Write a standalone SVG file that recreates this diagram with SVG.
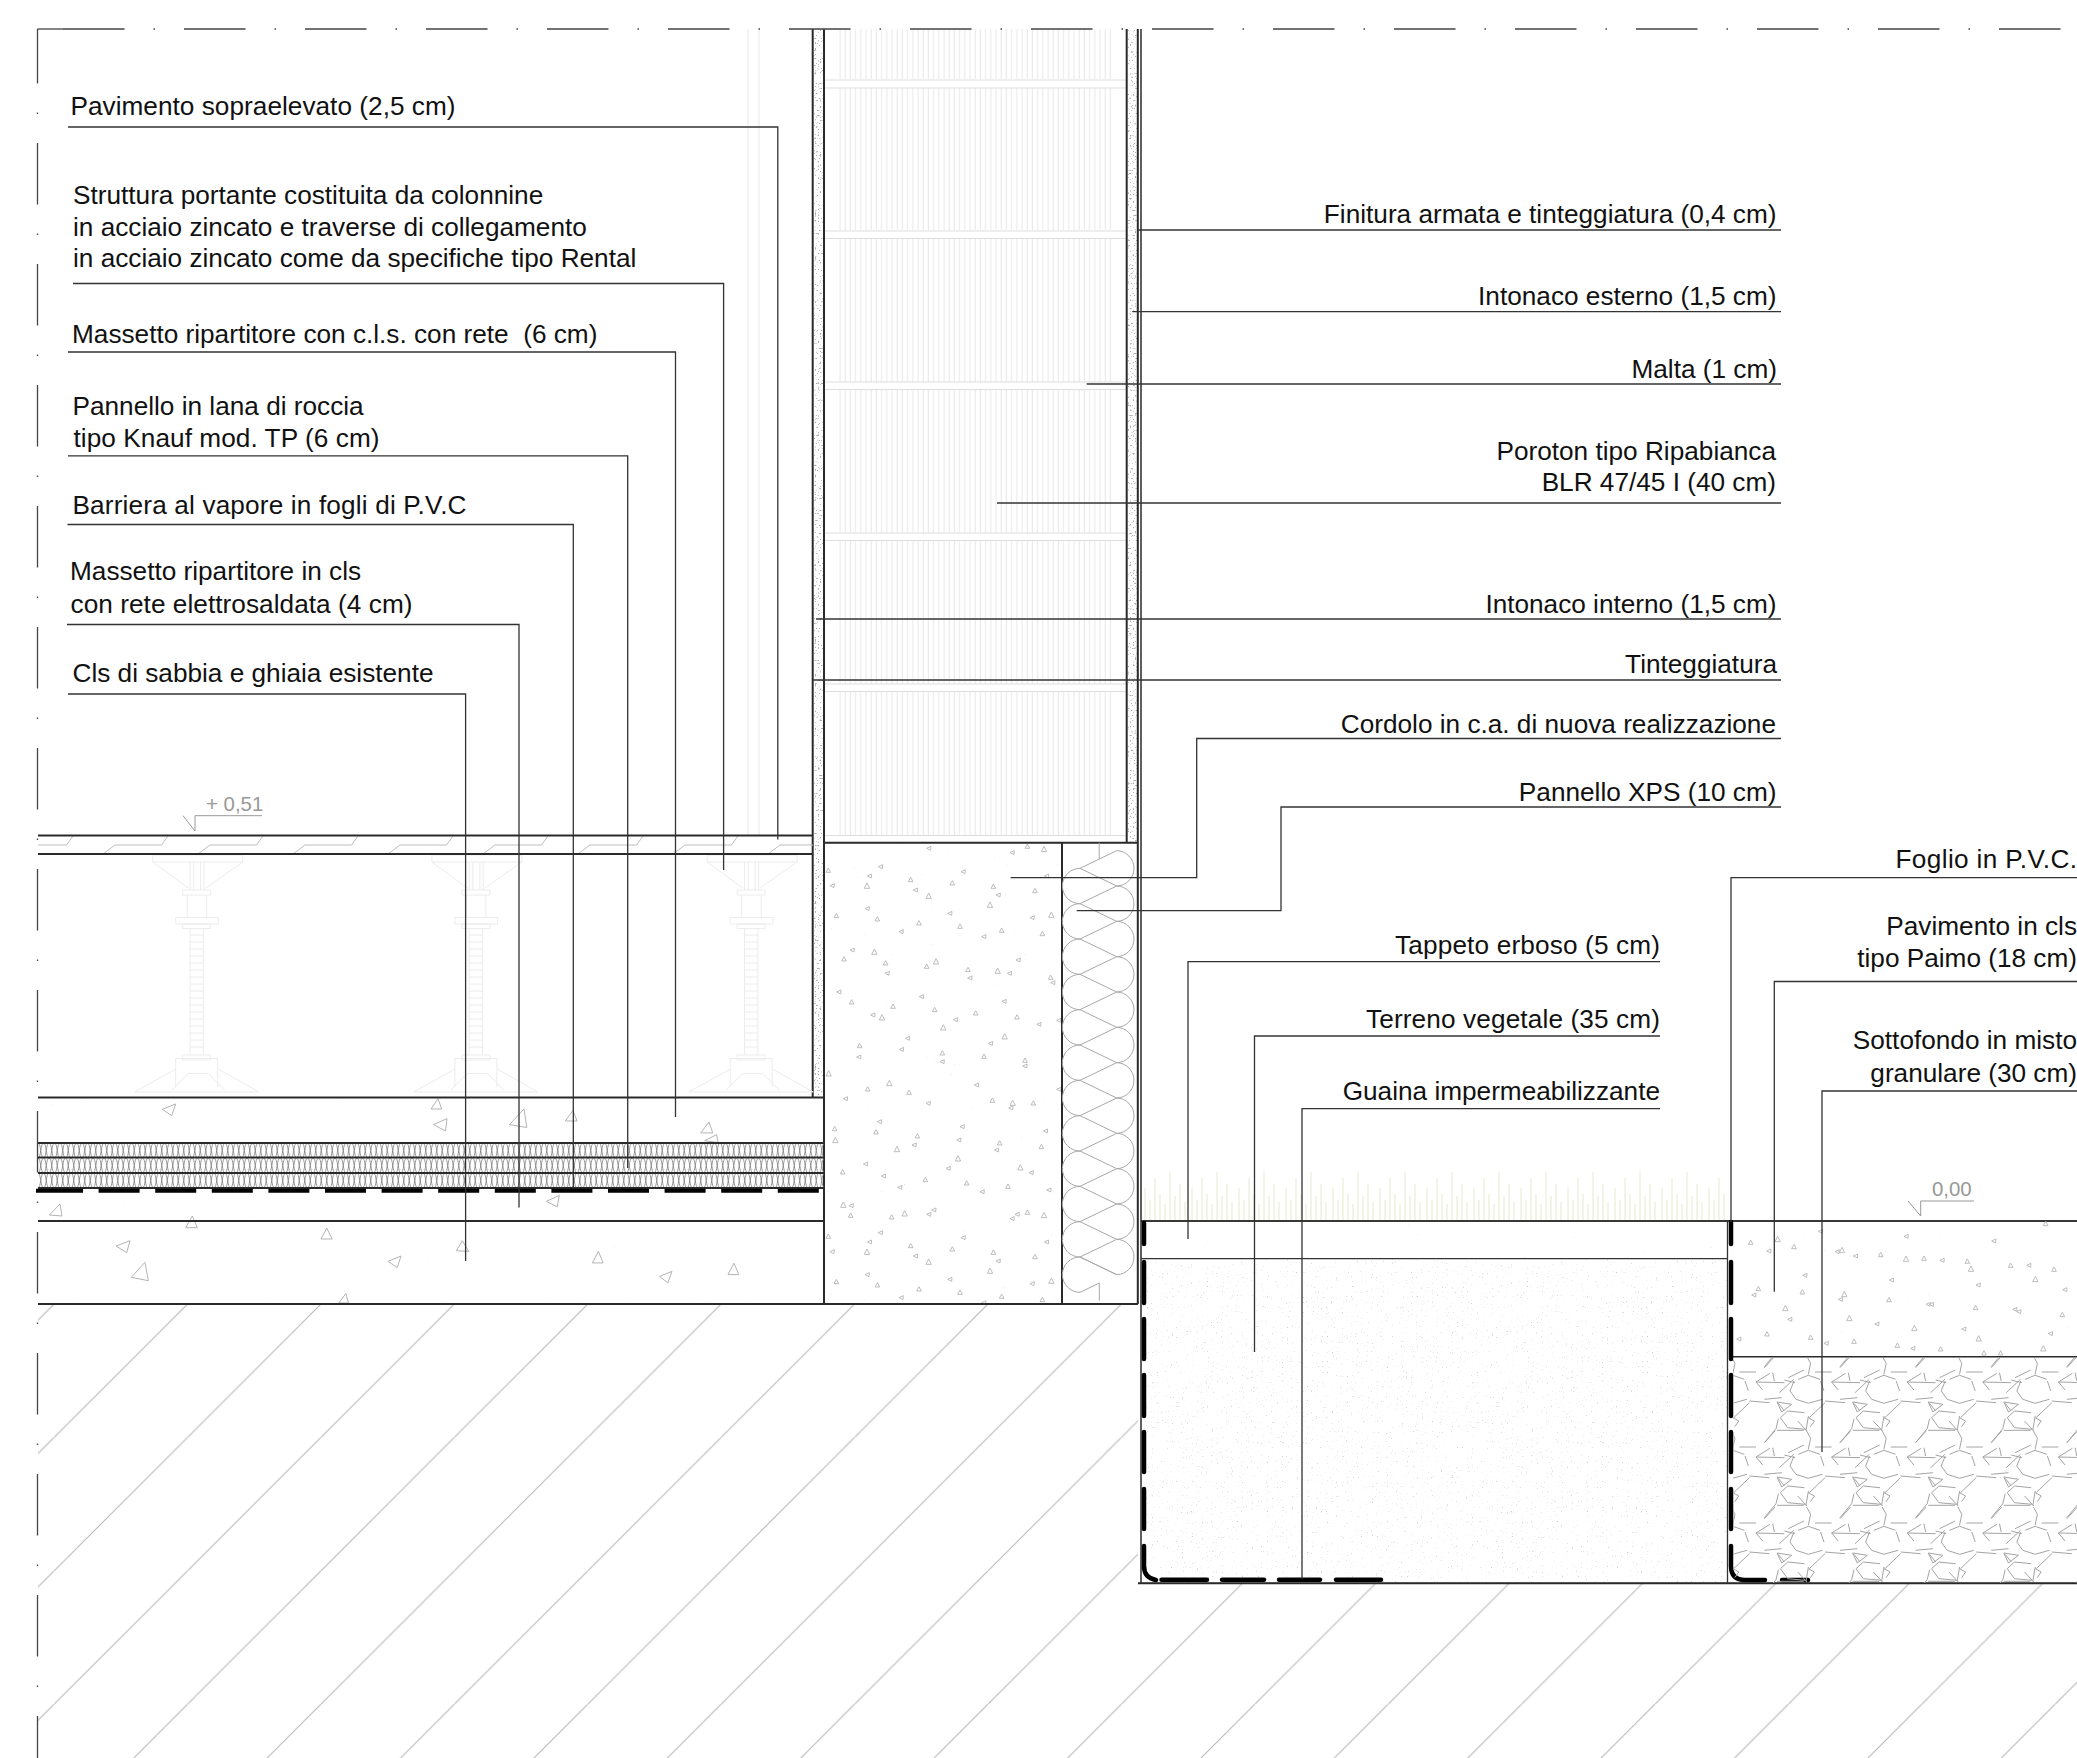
<svg xmlns="http://www.w3.org/2000/svg" xmlns:xlink="http://www.w3.org/1999/xlink" width="2077" height="1758" viewBox="0 0 2077 1758">
<style>
text{font-family:"Liberation Sans",Arial,sans-serif;font-size:26.2px;fill:#111}
.e{text-anchor:end}
.lv{font-size:20.4px;fill:#999}
.ln{fill:none;stroke:#2a2a2a;stroke-width:2}
.th{fill:none;stroke:#333;stroke-width:1.3}
.ld{fill:none;stroke:#333;stroke-width:1.3}
.tri{fill:none;stroke:#b4b4b4;stroke-width:1}
.ped{fill:none;stroke:#ececec;stroke-width:1}
.thick{fill:none;stroke:#000;stroke-width:4.5;stroke-linecap:round}
.axis{fill:none;stroke:#444;stroke-width:1.3}
</style>
<defs>
<pattern id="ground" patternUnits="userSpaceOnUse" x="54.2" y="1304" width="133.4" height="133.4"><path d="M135.4 -2L-2 135.4" fill="none" stroke="#b8b8b8" stroke-width="1.1"/></pattern>
<pattern id="braid" patternUnits="userSpaceOnUse" x="38" y="1143" width="11" height="15"><path d="M0 15C3 15 2.5 0 5.5 0C8.5 0 8 15 11 15M0 0C3 0 2.5 15 5.5 15C8.5 15 8 0 11 0" fill="none" stroke="#7c7c7c" stroke-width=".8"/></pattern>
<pattern id="block" patternUnits="userSpaceOnUse" x="838" y="0" width="5.2" height="20"><path d="M2 0V20" stroke="#e8e8e8" stroke-width="1"/></pattern>
<pattern id="grass" patternUnits="userSpaceOnUse" x="1143" y="1166" width="47" height="55"><path d="M2 22V55M7 34V55M12 12V55M17 28V55M22 38V55M27 6V55M32 30V55M37 18V55M42 36V55" stroke="#e4e9cf" stroke-width="1"/></pattern>
<filter id="fSoil" x="0" y="0" width="1" height="1" color-interpolation-filters="sRGB"><feTurbulence type="fractalNoise" baseFrequency=".8" numOctaves="1" seed="4"/><feColorMatrix values="0 0 0 0 .8 0 0 0 0 .8 0 0 0 0 .8 9 0 0 0 -6.1"/></filter>
<filter id="fSparse" x="0" y="0" width="1" height="1" color-interpolation-filters="sRGB"><feTurbulence type="fractalNoise" baseFrequency=".7" numOctaves="1" seed="9"/><feColorMatrix values="0 0 0 0 .82 0 0 0 0 .82 0 0 0 0 .82 9 0 0 0 -6.9"/></filter>
<filter id="fPlaster" x="0" y="0" width="1" height="1" color-interpolation-filters="sRGB"><feTurbulence type="fractalNoise" baseFrequency=".6" numOctaves="1" seed="2"/><feColorMatrix values="0 0 0 0 .68 0 0 0 0 .68 0 0 0 0 .68 9 0 0 0 -5.4"/></filter>
<clipPath id="cGround"><path d="M38 1304H1138V1583H2077V1758H38Z"/></clipPath>
<clipPath id="cConc"><rect x="825" y="844" width="236" height="459"/></clipPath>
<clipPath id="cGrav"><rect x="1733" y="1358" width="344" height="225"/></clipPath>
<clipPath id="cFin"><rect x="38" y="836" width="775" height="18"/></clipPath>
<path id="xu" d="M1080 868.33A17.67 17.67 0 0 0 1080 903.67M1116.7 850.67A17.67 17.67 0 0 1 1116.7 886M1116.7 850.67L1080 868.33L1116.7 886"/>
<g id="ped" class="ped">
<path d="M-44 855H46V862H-44ZM-44 862L-8.5 888M46 862L9 888M-6.7 862V890M7.3 862V890M-3 862V890M4 862V890"/>
<path d="M-14 890H14V895H-14ZM-9.5 895V917M10 895V917M-21 917.5H21.7V924H-21ZM-14 924H14V928.5H-14Z"/>
<path d="M-6.7 928.5V1055M6.7 928.5V1055M-6.7 935h13.4M-6.7 942h13.4M-6.7 949h13.4M-6.7 956h13.4M-6.7 963h13.4M-6.7 970h13.4M-6.7 977h13.4M-6.7 984h13.4M-6.7 991h13.4M-6.7 998h13.4M-6.7 1005h13.4M-6.7 1012h13.4M-6.7 1019h13.4M-6.7 1026h13.4M-6.7 1033h13.4M-6.7 1040h13.4M-6.7 1047h13.4"/>
<path d="M-14 1055H14V1060H-14ZM-21 1058.5H21V1087M-21 1058.5V1087M-25 1090L-8.3 1073.5H11.7L28.3 1090.5M-62 1091.7L-21 1069.3M21.7 1069.3L61.7 1091.7M-62 1092H62"/>
</g>
<path id="gr" fill="none" stroke="#a4a4a4" stroke-width="1" d="M-10 -11.7L0 -15.7L11.7 -11.7M12.3 -10L15.7 0M14.3 8.3L0 12.3L-12.3 8.3L-18.3 0L-14.3 -10M-1.7 -35L2.3 -27.7L0 -16.7M-20 -13.3L-4.3 -21M6.7 -19H23.3M31.7 -23.3L42.3 -35M23.3 -9L37.3 -17.7M23.3 -9L30 -1M23.3 -9L51.7 -8.3M40 -18.3L41.7 -10M46.7 1.7L61 -11.7M51.7 -11L62.3 -8.3M16.7 10L36.7 11.7M31.7 8.3L49 6.7M1 26.7L16.7 11.7M44.3 11L59 13.3L49 21ZM45.7 12.3L51.7 20M47.7 26.7L55 20L71.7 21.7M47.7 26.7L55 36.7L72.7 38.3M44.3 39.3H71M31.7 51.7L43.3 37.7L45.7 27.7M75.7 26.7L81.7 30L77.7 35.7M73.3 39.3L75.7 25M65 30L74.3 40"/>
</defs>

<g id="ground-hatch"><path d="M38 1304H1138V1583H2077V1758H38Z" fill="url(#ground)"/></g>

<g id="textures">
<rect x="38" y="1098" width="786" height="45" filter="url(#fSparse)" opacity=".5"/>
<rect x="38" y="1192" width="786" height="112" filter="url(#fSparse)" opacity=".5"/>
<rect x="825" y="843" width="236" height="461" filter="url(#fSparse)"/>
<rect x="1145" y="1259" width="582" height="324" filter="url(#fSoil)"/>
<rect x="1145" y="1222" width="582" height="36" filter="url(#fSparse)"/>
<rect x="1733" y="1222" width="344" height="134" filter="url(#fSparse)"/>
<rect x="814" y="29" width="10" height="1068" filter="url(#fPlaster)"/>
<rect x="1128" y="29" width="9.5" height="813" filter="url(#fPlaster)"/>
<rect x="1143" y="1166" width="582" height="55" fill="url(#grass)"/>
</g>

<g id="wall">
<rect x="838" y="29" width="274" height="50" fill="url(#block)"/>
<rect x="838" y="88" width="274" height="142" fill="url(#block)"/>
<rect x="838" y="239" width="274" height="143" fill="url(#block)"/>
<rect x="838" y="390" width="274" height="143" fill="url(#block)"/>
<rect x="838" y="541" width="274" height="143" fill="url(#block)"/>
<rect x="838" y="692" width="274" height="143" fill="url(#block)"/>
<path d="M825 80H1126M825 88H1126M825 231H1126M825 238.500H1126M825 382H1126M825 389.500H1126M825 533H1126M825 540.500H1126M825 684H1126M825 691.500H1126M825 835.500H1126" fill="none" stroke="#dedede" stroke-width="1"/>
<path d="M748 29V835M759 29V835" fill="none" stroke="#e8e8e8" stroke-width="1"/>
<path class="ln" d="M812.700 29V1097M824 29V1304M1126.700 29V842.700M1137.800 29V1304M824 842.700H1138M1062 842.700V1304"/>
<path class="ln" style="stroke-width:1.500" d="M1141 29V1583"/>
</g>

<g id="floor">
<g clip-path="url(#cFin)"><path fill="none" stroke="#bdbdbd" stroke-width="1" d="M8 854l12 -9h46.500l6.500 -9M103 854l12 -9h46.500l6.500 -9M198 854l12 -9h46.500l6.500 -9M293 854l12 -9h46.500l6.500 -9M388 854l12 -9h46.500l6.500 -9M483 854l12 -9h46.500l6.500 -9M578 854l12 -9h46.500l6.500 -9M673 854l12 -9h46.500l6.500 -9M768 854l12 -9h46.500l6.500 -9"/></g>
<use xlink:href="#ped" href="#ped" x="196.700"/>
<use xlink:href="#ped" href="#ped" x="475.900"/>
<use xlink:href="#ped" href="#ped" x="751.200"/>
<rect x="38" y="1143" width="786" height="45" fill="url(#braid)"/>
<path class="tri" d="M162.300 1109.300L175.700 1104L171.700 1115.700ZM49.300 1215L60 1204L62 1216ZM185.700 1227.700L192.300 1216L197.300 1227.700ZM116 1246L130 1240.700L126.700 1252.700ZM131.300 1277.300L145 1262.300L148.300 1280.700ZM431 1109L438 1098.600L441.700 1109ZM433.600 1124.600L447 1118.600L445.500 1131ZM509.500 1124.600L524 1109L526.800 1127.500ZM565.300 1121L573 1110.400L577 1121ZM700.800 1132.900L709 1122L712.700 1132.900ZM704.600 1140.700L716.600 1134.600L718 1142.500ZM546.300 1201.400L559.300 1195.400L557.200 1206.800ZM320.900 1239L326.800 1228.200L332.200 1239ZM456.400 1250.700L462.300 1240.700L468.800 1251.400ZM388 1261.400L401 1256L397.300 1267.500ZM592.400 1262.900L598.400 1251.400L603.200 1262.900ZM659.600 1276.400L672 1271.400L667.800 1282.900ZM728 1274.600L734 1263.200L738.800 1274.600ZM338.800 1303L345.800 1293.600L348.500 1303Z"/>
<path class="ln" d="M38 835.400H813M38 854H813M38 1097.500H824M38 1143H824M38 1157.500H824M38 1173H824M38 1188H824M38 1221H824M38 1304H1138"/>
<path d="M36 1190.700H83" fill="none" stroke="#000" stroke-width="4"/>
<path d="M98.600 1190.700H825" fill="none" stroke="#000" stroke-width="4" stroke-dasharray="41 15.600"/>
</g>

<g id="concrete-aggregate">
<g clip-path="url(#cConc)">
<g id="conc" transform="translate(800 820) scale(.33333)">
<path class="tri" style="stroke-width:2.600" d="M380 85l13-6l-1 12zM675 85l7-13l7 13zM724 95l8-16l8 16zM630 98l13-6l-1 12zM235 140l13-6l-1 12zM78 157l7-13l7 13zM202 168l13-6l-1 12zM483 155l13-6l-1 12zM733 168l13-6l-1 12zM325 185l7-13l7 13zM450 195l7-13l7 13zM193 205l8-16l8 16zM90 197l13-6l-1 12zM573 205l7-13l7 13zM588 225l13-6l-1 12zM340 210l13-6l-1 12zM698 218l7-13l7 13zM378 235l8-16l8 16zM562 262l8-16l8 16zM195 266l13-6l-1 12zM102 293l7-13l7 13zM225 303l7-13l7 13zM443 280l13-6l-1 12zM690 293l13-6l-1 12zM746 292l8-16l8 16zM350 315l7-13l7 13zM473 325l7-13l7 13zM297 335l13-6l-1 12zM545 350l13-6l-1 12zM598 337l7-13l7 13zM720 347l7-13l7 13zM150 390l13-6l-1 12zM215 403l8-16l8 16zM648 420l13-6l-1 12zM125 423l7-13l7 13zM400 432l8-16l8 16zM250 435l7-13l7 13zM373 445l7-13l7 13zM255 460l13-6l-1 12zM497 455l7-13l7 13zM585 460l8-16l8 16zM622 460l13-6l-1 12zM503 474l13-6l-1 12zM745 478l7-13l7 13zM752 488l13-6l-1 12zM110 516l13-6l-1 12zM148 552l7-13l7 13zM358 530l13-6l-1 12zM272 565l7-13l7 13zM606 544l13-6l-1 12zM212 585l13-6l-1 12zM238 600l8-16l8 16zM397 575l7-13l7 13zM520 585l7-13l7 13zM644 597l7-13l7 13zM460 599l13-6l-1 12zM770 601l13-6l-1 12zM710 613l13-6l-1 12zM422 630l8-16l8 16zM606 657l8-16l8 16zM316 655l13-6l-1 12zM565 670l13-6l-1 12zM172 683l7-13l7 13zM298 688l13-6l-1 12zM170 711l13-6l-1 12zM420 705l7-13l7 13zM545 715l7-13l7 13zM668 727l7-13l7 13zM420 725l13-6l-1 12zM668 738l13-6l-1 12zM78 768l8-16l8 16zM260 797l8-16l8 16zM523 795l13-6l-1 12zM196 813l7-13l7 13zM130 836l13-6l-1 12zM320 823l7-13l7 13zM770 808l13-6l-1 12zM570 847l7-13l7 13zM630 856l8-16l8 16zM378 850l13-6l-1 12zM693 855l7-13l7 13zM626 864l13-6l-1 12zM232 905l13-6l-1 12zM480 920l13-6l-1 12zM97 932l7-13l7 13zM221 942l7-13l7 13zM730 933l13-6l-1 12zM345 954l7-13l7 13zM98 968l8-16l8 16zM470 960l13-6l-1 12zM592 975l7-13l7 13zM336 975l13-6l-1 12zM717 986l7-13l7 13zM583 990l13-6l-1 12zM283 995l8-16l8 16zM466 1023l8-16l8 16zM190 1032l13-6l-1 12zM438 1045l13-6l-1 12zM653 1050l8-16l8 16zM687 1058l13-6l-1 12zM121 1062l7-13l7 13zM244 1068l13-6l-1 12zM369 1085l7-13l7 13zM493 1095l7-13l7 13zM617 1105l7-13l7 13zM293 1102l13-6l-1 12zM540 1115l13-6l-1 12zM740 1110l13-6l-1 12zM122 1162l8-16l8 16zM147 1157l13-6l-1 12zM306 1188l8-16l8 16zM145 1192l7-13l7 13zM395 1170l13-6l-1 12zM645 1183l13-6l-1 12zM268 1197l7-13l7 13z"/>
</g>
<use xlink:href="#conc" href="#conc" y="366"/>
</g>
</g>

<g id="xps">
<g fill="none" stroke="#a8a8a8" stroke-width="1">
<use xlink:href="#xu" href="#xu"/><use xlink:href="#xu" href="#xu" y="35.33"/><use xlink:href="#xu" href="#xu" y="70.67"/><use xlink:href="#xu" href="#xu" y="106"/><use xlink:href="#xu" href="#xu" y="141.33"/><use xlink:href="#xu" href="#xu" y="176.67"/><use xlink:href="#xu" href="#xu" y="212"/><use xlink:href="#xu" href="#xu" y="247.33"/><use xlink:href="#xu" href="#xu" y="282.67"/><use xlink:href="#xu" href="#xu" y="318"/><use xlink:href="#xu" href="#xu" y="353.33"/><use xlink:href="#xu" href="#xu" y="388.67"/>
<path d="M1099.200 842.700V859.500M1116.700 1274.670L1080 1257M1080 1292.330L1099.300 1283V1300.700"/>
</g>
</g>

<g id="garden">
<path class="th" d="M1141 1221H2077M1141 1258.700H1727.500M1727.500 1221V1583M1138 1583H2077"/>
<path class="ln" d="M1731 1356.700H2077M1141 1221H2077M1138 1583.500H2077" style="stroke-width:1.600"/>
<path class="thick" d="M1144 1223V1244M1144 1262V1303M1144 1319V1359M1144 1375V1416M1144 1432V1472M1144 1489V1529M1144 1546V1566Q1144 1578 1156 1580M1161.500 1579.700H1207M1222 1579.700H1264M1279 1579.700H1320M1336 1579.700H1381"/>
<path class="thick" d="M1731 1222V1244M1731 1262V1303M1731 1319V1359M1731 1375V1416M1731 1432V1472M1731 1489V1529M1731 1546V1566Q1731 1580 1745 1580H1765M1782 1580H1808"/>
</g>

<g id="paving">
<g transform="translate(1650 1160) scale(.33333)">
<path class="tri" style="stroke-width:2.600" d="M295 253l7-13l7 13zM375 245l8-16l8 16zM350 273l13-6l-1 12zM425 266l7-13l7 13zM505 214l13-6l-1 12zM762 229l13-6l-1 12zM1180 197l7-13l7 13zM1025 243l13-6l-1 12zM555 275l13-6l-1 12zM568 278l8-16l8 16zM610 288l13-6l-1 12zM685 290l7-13l7 13zM760 304l8-16l8 16zM815 301l7-13l7 13zM870 301l13-6l-1 12zM945 310l7-13l7 13zM955 334l8-16l8 16zM1075 322l7-13l7 13zM1130 316l13-6l-1 12zM1205 334l7-13l7 13zM718 360l13-6l-1 12zM1148 365l8-16l8 16zM978 375l13-6l-1 12zM1238 389l13-6l-1 12zM318 392l7-13l7 13zM305 405l13-6l-1 12zM450 402l7-13l7 13zM458 346l13-6l-1 12zM565 418l13-6l-1 12zM575 410l8-16l8 16zM710 425l7-13l7 13zM828 433l13-6l-1 12zM838 433l13-6l-1 12zM970 449l7-13l7 13zM1088 448l13-6l-1 12zM1100 455l13-6l-1 12zM1230 470l7-13l7 13zM398 452l8-16l8 16zM413 478l13-6l-1 12zM590 482l8-16l8 16zM674 492l13-6l-1 12zM785 512l8-16l8 16zM935 507l13-6l-1 12zM978 543l8-16l8 16zM1195 521l13-6l-1 12zM260 537l13-6l-1 12zM344 528l7-13l7 13zM475 538l7-13l7 13zM522 550l13-6l-1 12zM605 550l7-13l7 13zM735 562l7-13l7 13zM782 565l13-6l-1 12zM865 573l7-13l7 13zM995 585l7-13l7 13zM1045 585l7-13l7 13zM1172 573l8-16l8 16z"/>
</g>
<g clip-path="url(#cGrav)">
<use xlink:href="#gr" href="#gr" x="1657.100" y="1315"/><use xlink:href="#gr" href="#gr" x="1732.700" y="1315"/><use xlink:href="#gr" href="#gr" x="1808.300" y="1315"/><use xlink:href="#gr" href="#gr" x="1883.900" y="1315"/><use xlink:href="#gr" href="#gr" x="1959.500" y="1315"/><use xlink:href="#gr" href="#gr" x="2035.100" y="1315"/>
<use xlink:href="#gr" href="#gr" x="1657.100" y="1391"/><use xlink:href="#gr" href="#gr" x="1732.700" y="1391"/><use xlink:href="#gr" href="#gr" x="1808.300" y="1391"/><use xlink:href="#gr" href="#gr" x="1883.900" y="1391"/><use xlink:href="#gr" href="#gr" x="1959.500" y="1391"/><use xlink:href="#gr" href="#gr" x="2035.100" y="1391"/>
<use xlink:href="#gr" href="#gr" x="1657.100" y="1466"/><use xlink:href="#gr" href="#gr" x="1732.700" y="1466"/><use xlink:href="#gr" href="#gr" x="1808.300" y="1466"/><use xlink:href="#gr" href="#gr" x="1883.900" y="1466"/><use xlink:href="#gr" href="#gr" x="1959.500" y="1466"/><use xlink:href="#gr" href="#gr" x="2035.100" y="1466"/>
<use xlink:href="#gr" href="#gr" x="1657.100" y="1542"/><use xlink:href="#gr" href="#gr" x="1732.700" y="1542"/><use xlink:href="#gr" href="#gr" x="1808.300" y="1542"/><use xlink:href="#gr" href="#gr" x="1883.900" y="1542"/><use xlink:href="#gr" href="#gr" x="1959.500" y="1542"/><use xlink:href="#gr" href="#gr" x="2035.100" y="1542"/>
</g>
</g>

<g id="axes">
<path class="axis" d="M37.500 29H63"/>
<path class="axis" stroke-dasharray="61.500 29 1.500 29" d="M63 29H2077"/>
<path class="axis" stroke-dasharray="61.500 29 1.500 29" stroke-dashoffset="7" d="M37.500 29V1758"/>
</g>

<g id="levels">
<path d="M183 815.700L195 831V815.700H262" fill="none" stroke="#999" stroke-width="1"/>
<text class="lv" x="206" y="811">+ 0,51</text>
<path d="M1908 1201L1920.700 1216V1201H1974" fill="none" stroke="#999" stroke-width="1"/>
<text class="lv" x="1932" y="1196">0,00</text>
</g>

<g id="connectors" class="ld">
<path d="M68 127H777.800V839.600"/>
<path d="M73 283.500H723.600V870"/>
<path d="M68 352H675.500V1117"/>
<path d="M68 455.800H627.700V1168"/>
<path d="M67.500 524.500H573.300V1188"/>
<path d="M67 624.500H519V1207.500"/>
<path d="M68 694H465.600V1261"/>
<path d="M1781 230H1138.300"/>
<path d="M1781 311.700H1132.300"/>
<path d="M1781 384H1086.700"/>
<path d="M1781 503H997"/>
<path d="M1781 619H816"/>
<path d="M1781 680H813"/>
<path d="M1781 738.500H1196.700V877.700H1010.700"/>
<path d="M1781 807H1281V910.700H1076.700"/>
<path d="M1660 961.600H1188V1239"/>
<path d="M1660 1036H1254.500V1352"/>
<path d="M1660 1108.700H1302V1579"/>
<path d="M2077 877.600H1731V1222"/>
<path d="M2077 981.500H1774.300V1291.700"/>
<path d="M2077 1091H1822V1452"/>
</g>

<g id="labels">
<text x="70.500" y="115" textLength="385">Pavimento sopraelevato (2,5 cm)</text>
<g id="l-struttura"><text x="73" y="204">Struttura portante costituita da colonnine</text><text x="73" y="235.500">in acciaio zincato e traverse di collegamento</text><text x="73" y="267">in acciaio zincato come da specifiche tipo Rental</text></g>
<text x="72" y="343" xml:space="preserve">Massetto ripartitore con c.l.s. con rete  (6 cm)</text>
<g id="l-pannello"><text x="72.500" y="415">Pannello in lana di roccia</text><text x="73.500" y="446.500" textLength="306">tipo Knauf mod. TP (6 cm)</text></g>
<text x="72.500" y="514" textLength="394">Barriera al vapore in fogli di P.V.C</text>
<g id="l-massetto"><text x="70" y="580">Massetto ripartitore in cls</text><text x="70.500" y="612.500" textLength="342">con rete elettrosaldata (4 cm)</text></g>
<text x="72.500" y="682">Cls di sabbia e ghiaia esistente</text>
<text class="e" x="1776.500" y="223">Finitura armata e tinteggiatura (0,4 cm)</text>
<text class="e" x="1776.500" y="305">Intonaco esterno (1,5 cm)</text>
<text class="e" x="1777" y="378">Malta (1 cm)</text>
<g id="l-poroton"><text class="e" x="1776" y="460">Poroton tipo Ripabianca</text><text class="e" x="1776" y="491">BLR 47/45 I (40 cm)</text></g>
<text class="e" x="1776.500" y="612.500">Intonaco interno (1,5 cm)</text>
<text class="e" x="1777" y="672.800">Tinteggiatura</text>
<text class="e" x="1776" y="733">Cordolo in c.a. di nuova realizzazione</text>
<text class="e" x="1776.500" y="800.500">Pannello XPS (10 cm)</text>
<text class="e" x="1660" y="953.700" textLength="265">Tappeto erboso (5 cm)</text>
<text class="e" x="1660" y="1028" textLength="294">Terreno vegetale (35 cm)</text>
<text class="e" x="1660" y="1099.500">Guaina impermeabilizzante</text>
<text class="e" x="2077" y="868" textLength="181.500">Foglio in P.V.C.</text>
<g id="l-paimo"><text class="e" x="2077" y="935">Pavimento in cls</text><text class="e" x="2077" y="967">tipo Paimo (18 cm)</text></g>
<g id="l-sottofondo"><text class="e" x="2077" y="1048.500">Sottofondo in misto</text><text class="e" x="2077" y="1082">granulare (30 cm)</text></g>
</g>
</svg>
